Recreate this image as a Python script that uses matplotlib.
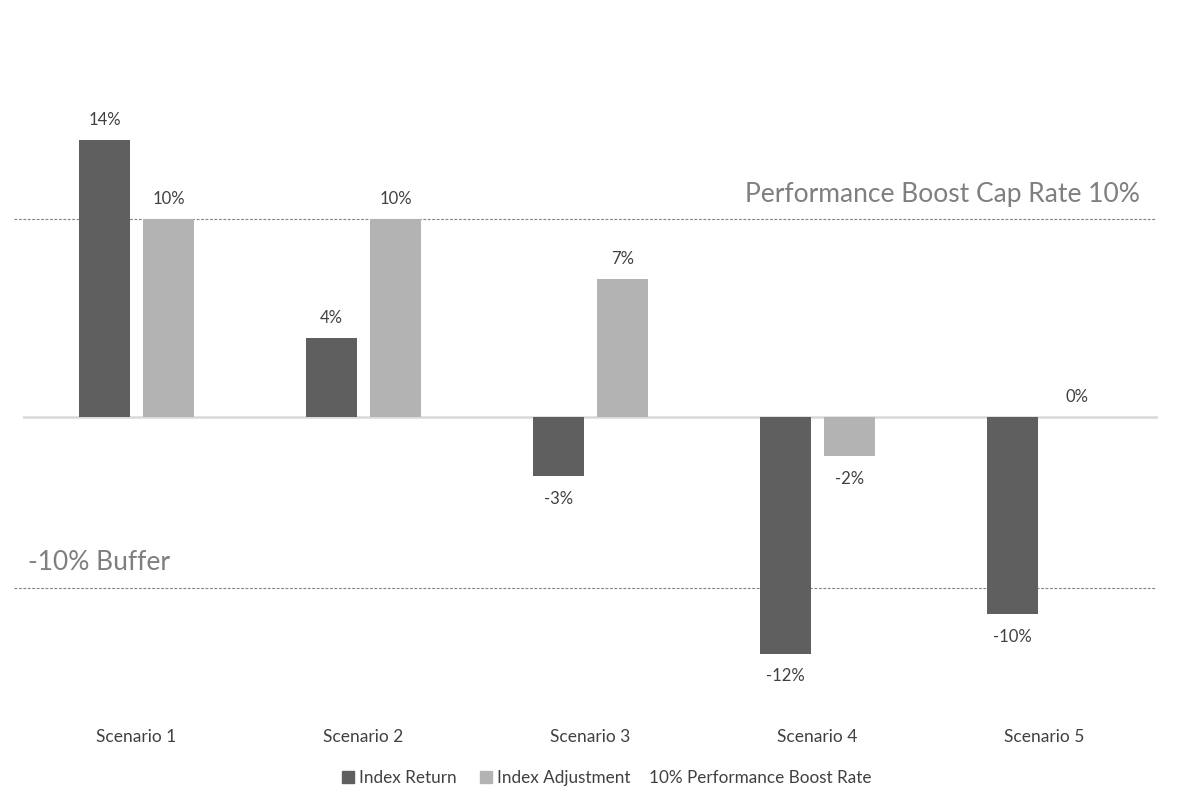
import numpy as np
import matplotlib.pyplot as plt
from matplotlib.patches import Patch

plt.rcParams['font.family'] = ['Lato', 'DejaVu Sans']

# Data
scenarios = ['Scenario 1', 'Scenario 2', 'Scenario 3', 'Scenario 4', 'Scenario 5']
index_return = [14, 4, -3, -12, -10]
index_adjustment = [10, 10, 7, -2, 0]
cap_rate = 10        # Performance Boost Cap Rate line
buffer_line = -8.7   # drawn buffer line position

dark = '#5f5f5f'
light = '#b3b3b3'
label_col = '#404040'
note_col = '#7f7f7f'

W, H = 1180, 808
fig = plt.figure(figsize=(W / 100, H / 100), dpi=100)
# axes in pixel terms: x from 23 to 1158, y from 60 to 700
ax = fig.add_axes([23 / W, (H - 700) / H, (1158 - 23) / W, (700 - 60) / H])

px_per_pct = 19.74
zero_y = 416.7
ax.set_ylim(-(700 - zero_y) / px_per_pct, (zero_y - 60) / px_per_pct)

x = np.arange(len(scenarios))
ax.set_xlim(-0.5, len(scenarios) - 0.5)
bw = 0.225
off = 0.141

b1 = ax.bar(x - off, index_return, bw, color=dark, zorder=3)
b2 = ax.bar(x + off, index_adjustment, bw, color=light, zorder=3)

# zero axis line
ax.axhline(0, color='#d9d9d9', lw=1.8, zorder=2)

# dashed reference lines (extend a little beyond the axes on the left)
for yv in (cap_rate, buffer_line):
    ax.plot([-0.54, 4.49], [yv, yv], ls=(0, (2.5, 1.5)), color='#808080', lw=0.8,
            clip_on=False, zorder=2)

ax.text(4.42, cap_rate + 0.6, 'Performance Boost Cap Rate 10%', ha='right', va='bottom',
        fontsize=19, color=note_col)
ax.text(-0.478, buffer_line + 0.7, '-10% Buffer', ha='left', va='bottom',
        fontsize=19, color=note_col)

# data labels
for bars, vals in ((b1, index_return), (b2, index_adjustment)):
    for rect, v in zip(bars, vals):
        cx = rect.get_x() + rect.get_width() / 2
        if v >= 0:
            ax.text(cx, v + 0.6, f'{v}%', ha='center', va='bottom', fontsize=12, color=label_col)
        else:
            ax.text(cx, v - 0.75, f'{v}%', ha='center', va='top', fontsize=12, color=label_col)

ax.set_xticks(x)
ax.set_xticklabels(scenarios, fontsize=12.5, color=label_col)
ax.tick_params(axis='x', length=0, pad=21)
ax.set_yticks([])
for s in ax.spines.values():
    s.set_visible(False)

# legend: two bar series plus the third entry, which has no visible marker
handles = [Patch(color=dark), Patch(color=light)]
fig.legend(handles, ['Index Return', 'Index Adjustment'],
           loc='center left', bbox_to_anchor=(342 / W, 1 - 778 / H), ncol=2, frameon=False,
           fontsize=12.3, labelcolor=label_col, handlelength=0.7, handleheight=0.7,
           handletextpad=0.3, columnspacing=1.35, borderpad=0, borderaxespad=0)
fig.text(649 / W, 1 - 778 / H, '10% Performance Boost Rate', ha='left', va='center',
         fontsize=12.3, color=label_col)

fig.savefig('out.png', dpi=100)
